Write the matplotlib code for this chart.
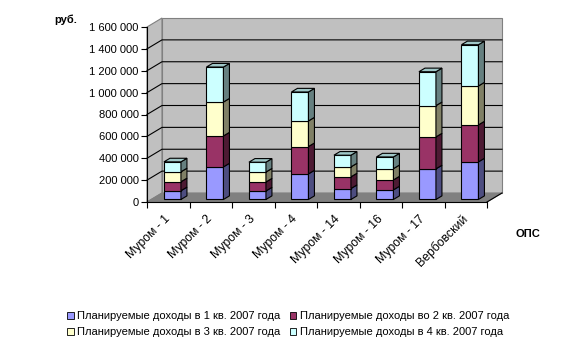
import matplotlib
matplotlib.use('Agg')
import matplotlib.pyplot as plt
from matplotlib.patches import Polygon, Rectangle
from matplotlib.colors import to_rgb
import numpy as np

plt.rcParams['font.family'] = ['Liberation Sans', 'DejaVu Sans']

# data (руб.)
categories = ['Муром - 1', 'Муром - 2', 'Муром - 3', 'Муром - 4',
              'Муром - 14', 'Муром - 16', 'Муром - 17', 'Вербовский']
q1 = [80000, 298000, 78000, 234000, 100000, 88000, 280000, 344000]
q2 = [82000, 283000, 82000, 250000, 107000, 91000, 292000, 338000]
q3 = [91000, 310000, 91000, 234000, 91000, 103000, 286000, 356000]
q4 = [91000, 320000, 90000, 265000, 107000, 107000, 310000, 377000]
series_labels = ['Планируемые доходы в 1 кв. 2007 года',
                 'Планируемые доходы во 2 кв. 2007 года',
                 'Планируемые доходы в 3 кв. 2007 года',
                 'Планируемые доходы в 4 кв. 2007 года']
colors = ['#9999FF', '#993366', '#FFFFCC', '#CCFFFF']
yticks = list(range(0, 1600001, 200000))
ymax = 1600000


def shade(c, k):
    r, g, b = to_rgb(c)
    return (r * k, g * k, b * k)


fig = plt.figure(figsize=(5.69, 3.52), dpi=100)
ax = fig.add_axes([147 / 569, 150 / 352, 340 / 569, 175 / 352])
ax.set_facecolor('none')
n = len(categories)
xs = np.arange(n)
ax.set_xlim(-0.5, n - 0.5)
ax.set_ylim(0, ymax)

# depth of the fake 3d box (15 px right, 9 px up)
DX = 15 / (340 / n)
DY = 9 / 175 * ymax
x0, x1 = -0.5, n - 0.5

wall = '#C0C0C0'
edge = '#808080'
ax.add_patch(Polygon([(x0, 0), (x0 + DX, DY), (x0 + DX, ymax + DY), (x0, ymax)],
                     fc=wall, ec=edge, lw=0.8, clip_on=False, zorder=0))
ax.add_patch(Polygon([(x0 + DX, DY), (x1 + DX, DY), (x1 + DX, ymax + DY), (x0 + DX, ymax + DY)],
                     fc=wall, ec=edge, lw=0.8, clip_on=False, zorder=0))
ax.add_patch(Polygon([(x0, 0), (x1, 0), (x1 + DX, DY), (x0 + DX, DY)],
                     fc=edge, ec=edge, lw=0.8, clip_on=False, zorder=0.5))
ax.plot([x1, x1 + DX], [0, DY], color='black', lw=0.8, clip_on=False, zorder=1)
for t in yticks[1:-1]:
    ax.plot([x0, x0 + DX, x1 + DX], [t, t + DY, t + DY], color='black', lw=0.8,
            clip_on=False, zorder=0.8)

# bars
f = 0.28       # where the bar front sits in the depth
bw = 0.4       # bar width
bd = 0.4       # bar depth (fraction of box depth)
bdx, bdy = bd * DX, bd * DY
bottom = np.zeros(n)
series = [q1, q2, q3, q4]
for k, (vals, c) in enumerate(zip(series, colors)):
    vals = np.array(vals, dtype=float)
    base = bottom + f * DY
    ax.bar(xs + f * DX, vals, width=bw, bottom=base, color=c, edgecolor='black',
           lw=0.8, zorder=3)
    for i in range(n):
        xr = xs[i] + f * DX + bw / 2
        xl = xr - bw
        ya, yb = base[i], base[i] + vals[i]
        ax.add_patch(Polygon([(xr, ya), (xr + bdx, ya + bdy), (xr + bdx, yb + bdy), (xr, yb)],
                             fc=shade(c, 0.5), ec='black', lw=0.8, clip_on=False, zorder=3))
        if k == len(series) - 1:
            ax.add_patch(Polygon([(xl, yb), (xr, yb), (xr + bdx, yb + bdy), (xl + bdx, yb + bdy)],
                                 fc=shade(c, 0.78), ec='black', lw=0.8, clip_on=False, zorder=3))
    bottom = bottom + vals

# axes
for s in ['top', 'right']:
    ax.spines[s].set_visible(False)
for s in ['left', 'bottom']:
    ax.spines[s].set_linewidth(0.8)
    ax.spines[s].set_zorder(4)
ax.set_yticks(yticks)
ax.set_yticklabels([f'{v:,}'.replace(',', ' ') for v in yticks])
ax.tick_params(axis='y', direction='out', length=4, width=0.8, labelsize=8, pad=2)
ax.set_xticks(xs)
ax.set_xticklabels(categories, rotation=45, ha='right', va='center', rotation_mode='anchor')
ax.tick_params(axis='x', which='major', length=0, labelsize=8.8, pad=11)
ax.set_xticks(np.arange(-0.5, n), minor=True)
ax.tick_params(axis='x', which='minor', direction='out', length=4, width=0.8)

fig.text(54 / 569, 1 - 20 / 352, 'руб.', fontsize=8, fontweight='bold', ha='left', va='center')
fig.text(515 / 569, 1 - 234 / 352, 'ОПС', fontsize=8, fontweight='bold', ha='left', va='center')

handles = [Rectangle((0, 0), 1, 1, fc=c, ec='black', lw=0.6) for c in colors]
order = [0, 2, 1, 3]
fig.legend([handles[i] for i in order], [series_labels[i] for i in order], ncol=2,
           loc='center left', bbox_to_anchor=(63 / 569, 1 - 324 / 352), frameon=False,
           fontsize=8, handlelength=0.6, handleheight=0.6, handletextpad=0.3,
           columnspacing=0.8, labelspacing=0.55, borderaxespad=0)

fig.savefig('out.png', dpi=100)
